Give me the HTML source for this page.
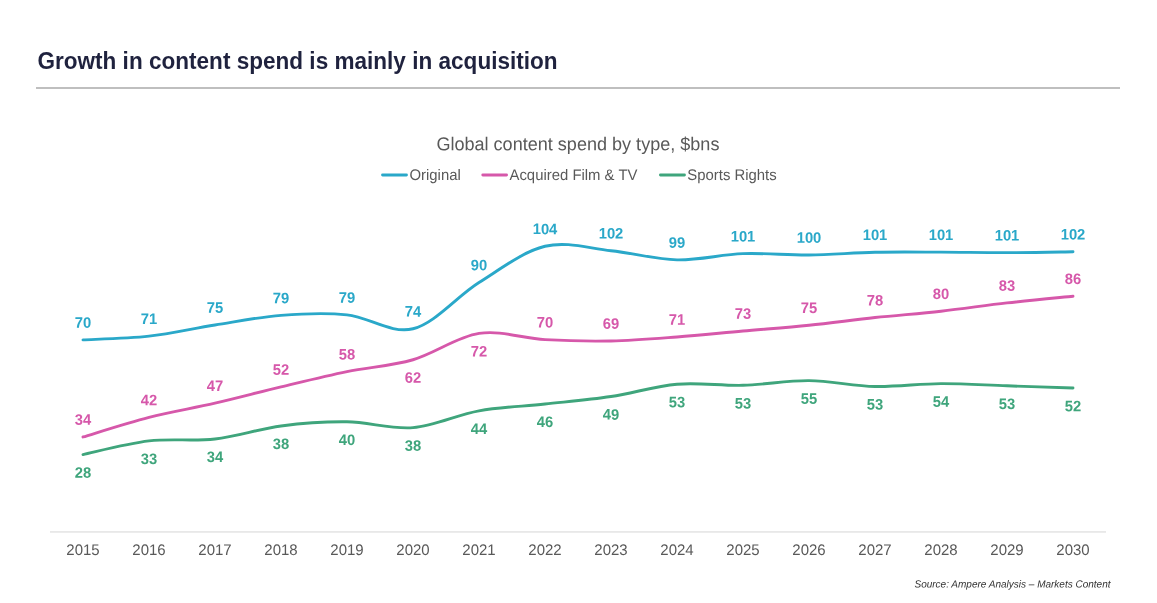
<!DOCTYPE html>
<html><head><meta charset="utf-8"><title>Growth in content spend</title>
<style>
html,body{margin:0;padding:0;background:#fff;}
body{width:1157px;height:603px;position:relative;overflow:hidden;font-family:"Liberation Sans",Arial,sans-serif;}
h1{position:absolute;left:37px;top:45.5px;margin:0;font-size:22.56px;line-height:30px;font-weight:bold;color:#1f223e;white-space:nowrap;transform:scaleY(1.06);transform-origin:0 22.85px;}
.rule{position:absolute;left:36px;top:87.4px;width:1084px;height:1.6px;background:#bfbfbf;}
svg text{font-family:"Liberation Sans",Arial,sans-serif;}
.tt{font-size:22.57px;font-weight:bold;fill:#1f223e;}
.dl{font-size:14.8px;font-weight:bold;text-anchor:middle;}
.ax{font-size:15px;fill:#595959;text-anchor:middle;}
.lg{font-size:14.9px;fill:#595959;}
.st{font-size:18.07px;fill:#595959;text-anchor:middle;}
.src{font-size:10.02px;font-style:italic;fill:#333;text-anchor:end;}
</style></head><body>
<div class="rule"></div>
<svg width="1157" height="603" viewBox="0 0 1157 603" style="position:absolute;left:0;top:0">
<rect x="50" y="531" width="1056" height="1.8" fill="#e8e8e8"/>
<path d="M83.00,454.56 C94.00,452.28 127.00,443.51 149.00,440.91 C171.00,438.31 193.00,441.47 215.00,438.98 C237.00,436.49 259.00,428.82 281.00,425.96 C303.00,423.10 325.00,421.52 347.00,421.80 C369.00,422.08 391.00,429.48 413.00,427.66 C435.00,425.84 457.00,414.82 479.00,410.88 C501.00,406.94 523.00,406.41 545.00,404.02 C567.00,401.63 589.00,399.83 611.00,396.53 C633.00,393.23 655.00,386.08 677.00,384.21 C699.00,382.34 721.00,385.90 743.00,385.31 C765.00,384.72 787.00,380.45 809.00,380.65 C831.00,380.85 853.00,386.02 875.00,386.51 C897.00,387.00 919.00,383.70 941.00,383.58 C963.00,383.46 985.00,385.07 1007.00,385.81 C1029.00,386.55 1062.00,387.67 1073.00,388.04" fill="none" stroke="#3fa57c" stroke-width="2.9" stroke-linecap="round" stroke-linejoin="round"/>
<text transform="translate(83.00,477.66) rotate(0.05) scale(1,1.025)" class="dl" fill="#3fa57c">28</text>
<text transform="translate(149.00,464.01) rotate(0.05) scale(1,1.025)" class="dl" fill="#3fa57c">33</text>
<text transform="translate(215.00,462.08) rotate(0.05) scale(1,1.025)" class="dl" fill="#3fa57c">34</text>
<text transform="translate(281.00,449.06) rotate(0.05) scale(1,1.025)" class="dl" fill="#3fa57c">38</text>
<text transform="translate(347.00,444.90) rotate(0.05) scale(1,1.025)" class="dl" fill="#3fa57c">40</text>
<text transform="translate(413.00,450.76) rotate(0.05) scale(1,1.025)" class="dl" fill="#3fa57c">38</text>
<text transform="translate(479.00,433.98) rotate(0.05) scale(1,1.025)" class="dl" fill="#3fa57c">44</text>
<text transform="translate(545.00,427.12) rotate(0.05) scale(1,1.025)" class="dl" fill="#3fa57c">46</text>
<text transform="translate(611.00,419.63) rotate(0.05) scale(1,1.025)" class="dl" fill="#3fa57c">49</text>
<text transform="translate(677.00,407.31) rotate(0.05) scale(1,1.025)" class="dl" fill="#3fa57c">53</text>
<text transform="translate(743.00,408.41) rotate(0.05) scale(1,1.025)" class="dl" fill="#3fa57c">53</text>
<text transform="translate(809.00,403.75) rotate(0.05) scale(1,1.025)" class="dl" fill="#3fa57c">55</text>
<text transform="translate(875.00,409.61) rotate(0.05) scale(1,1.025)" class="dl" fill="#3fa57c">53</text>
<text transform="translate(941.00,406.68) rotate(0.05) scale(1,1.025)" class="dl" fill="#3fa57c">54</text>
<text transform="translate(1007.00,408.91) rotate(0.05) scale(1,1.025)" class="dl" fill="#3fa57c">53</text>
<text transform="translate(1073.00,411.14) rotate(0.05) scale(1,1.025)" class="dl" fill="#3fa57c">52</text>
<path d="M83.00,436.98 C94.00,433.71 127.00,422.97 149.00,417.34 C171.00,411.71 193.00,408.26 215.00,403.19 C237.00,398.12 259.00,392.19 281.00,386.94 C303.00,381.69 325.00,376.19 347.00,371.66 C369.00,367.13 391.00,366.11 413.00,359.74 C435.00,353.37 457.00,336.80 479.00,333.44 C501.00,330.08 523.00,338.35 545.00,339.60 C567.00,340.85 589.00,341.37 611.00,340.93 C633.00,340.49 655.00,338.62 677.00,336.97 C699.00,335.32 721.00,332.96 743.00,331.01 C765.00,329.06 787.00,327.49 809.00,325.25 C831.00,323.01 853.00,319.90 875.00,317.56 C897.00,315.22 919.00,313.64 941.00,311.20 C963.00,308.76 985.00,305.41 1007.00,302.91 C1029.00,300.41 1062.00,297.34 1073.00,296.22" fill="none" stroke="#d658aa" stroke-width="2.9" stroke-linecap="round" stroke-linejoin="round"/>
<text transform="translate(83.00,424.83) rotate(0.05) scale(1,1.025)" class="dl" fill="#d658aa">34</text>
<text transform="translate(149.00,405.19) rotate(0.05) scale(1,1.025)" class="dl" fill="#d658aa">42</text>
<text transform="translate(215.00,391.04) rotate(0.05) scale(1,1.025)" class="dl" fill="#d658aa">47</text>
<text transform="translate(281.00,374.79) rotate(0.05) scale(1,1.025)" class="dl" fill="#d658aa">52</text>
<text transform="translate(347.00,359.51) rotate(0.05) scale(1,1.025)" class="dl" fill="#d658aa">58</text>
<text transform="translate(413.00,382.84) rotate(0.05) scale(1,1.025)" class="dl" fill="#d658aa">62</text>
<text transform="translate(479.00,356.54) rotate(0.05) scale(1,1.025)" class="dl" fill="#d658aa">72</text>
<text transform="translate(545.00,327.45) rotate(0.05) scale(1,1.025)" class="dl" fill="#d658aa">70</text>
<text transform="translate(611.00,328.78) rotate(0.05) scale(1,1.025)" class="dl" fill="#d658aa">69</text>
<text transform="translate(677.00,324.82) rotate(0.05) scale(1,1.025)" class="dl" fill="#d658aa">71</text>
<text transform="translate(743.00,318.86) rotate(0.05) scale(1,1.025)" class="dl" fill="#d658aa">73</text>
<text transform="translate(809.00,313.10) rotate(0.05) scale(1,1.025)" class="dl" fill="#d658aa">75</text>
<text transform="translate(875.00,305.41) rotate(0.05) scale(1,1.025)" class="dl" fill="#d658aa">78</text>
<text transform="translate(941.00,299.05) rotate(0.05) scale(1,1.025)" class="dl" fill="#d658aa">80</text>
<text transform="translate(1007.00,290.76) rotate(0.05) scale(1,1.025)" class="dl" fill="#d658aa">83</text>
<text transform="translate(1073.00,284.07) rotate(0.05) scale(1,1.025)" class="dl" fill="#d658aa">86</text>
<path d="M83.00,339.90 C94.00,339.28 127.00,338.66 149.00,336.17 C171.00,333.68 193.00,328.42 215.00,324.95 C237.00,321.48 259.00,317.02 281.00,315.33 C303.00,313.64 325.00,312.59 347.00,314.83 C369.00,317.07 391.00,334.17 413.00,328.78 C435.00,323.39 457.00,296.25 479.00,282.50 C501.00,268.75 523.00,251.57 545.00,246.28 C567.00,240.99 589.00,248.48 611.00,250.74 C633.00,253.00 655.00,259.34 677.00,259.83 C699.00,260.32 721.00,254.48 743.00,253.67 C765.00,252.87 787.00,255.23 809.00,255.00 C831.00,254.77 853.00,252.74 875.00,252.27 C897.00,251.80 919.00,252.10 941.00,252.17 C963.00,252.24 985.00,252.74 1007.00,252.67 C1029.00,252.60 1062.00,251.90 1073.00,251.74" fill="none" stroke="#2aa8c9" stroke-width="2.9" stroke-linecap="round" stroke-linejoin="round"/>
<text transform="translate(83.00,327.75) rotate(0.05) scale(1,1.025)" class="dl" fill="#2aa8c9">70</text>
<text transform="translate(149.00,324.02) rotate(0.05) scale(1,1.025)" class="dl" fill="#2aa8c9">71</text>
<text transform="translate(215.00,312.80) rotate(0.05) scale(1,1.025)" class="dl" fill="#2aa8c9">75</text>
<text transform="translate(281.00,303.18) rotate(0.05) scale(1,1.025)" class="dl" fill="#2aa8c9">79</text>
<text transform="translate(347.00,302.68) rotate(0.05) scale(1,1.025)" class="dl" fill="#2aa8c9">79</text>
<text transform="translate(413.00,316.63) rotate(0.05) scale(1,1.025)" class="dl" fill="#2aa8c9">74</text>
<text transform="translate(479.00,270.35) rotate(0.05) scale(1,1.025)" class="dl" fill="#2aa8c9">90</text>
<text transform="translate(545.00,234.13) rotate(0.05) scale(1,1.025)" class="dl" fill="#2aa8c9">104</text>
<text transform="translate(611.00,238.59) rotate(0.05) scale(1,1.025)" class="dl" fill="#2aa8c9">102</text>
<text transform="translate(677.00,247.68) rotate(0.05) scale(1,1.025)" class="dl" fill="#2aa8c9">99</text>
<text transform="translate(743.00,241.52) rotate(0.05) scale(1,1.025)" class="dl" fill="#2aa8c9">101</text>
<text transform="translate(809.00,242.85) rotate(0.05) scale(1,1.025)" class="dl" fill="#2aa8c9">100</text>
<text transform="translate(875.00,240.12) rotate(0.05) scale(1,1.025)" class="dl" fill="#2aa8c9">101</text>
<text transform="translate(941.00,240.02) rotate(0.05) scale(1,1.025)" class="dl" fill="#2aa8c9">101</text>
<text transform="translate(1007.00,240.52) rotate(0.05) scale(1,1.025)" class="dl" fill="#2aa8c9">101</text>
<text transform="translate(1073.00,239.59) rotate(0.05) scale(1,1.025)" class="dl" fill="#2aa8c9">102</text>
<text transform="translate(83.00,555.00) rotate(0.05) scale(1,1.025)" class="ax">2015</text>
<text transform="translate(149.00,555.00) rotate(0.05) scale(1,1.025)" class="ax">2016</text>
<text transform="translate(215.00,555.00) rotate(0.05) scale(1,1.025)" class="ax">2017</text>
<text transform="translate(281.00,555.00) rotate(0.05) scale(1,1.025)" class="ax">2018</text>
<text transform="translate(347.00,555.00) rotate(0.05) scale(1,1.025)" class="ax">2019</text>
<text transform="translate(413.00,555.00) rotate(0.05) scale(1,1.025)" class="ax">2020</text>
<text transform="translate(479.00,555.00) rotate(0.05) scale(1,1.025)" class="ax">2021</text>
<text transform="translate(545.00,555.00) rotate(0.05) scale(1,1.025)" class="ax">2022</text>
<text transform="translate(611.00,555.00) rotate(0.05) scale(1,1.025)" class="ax">2023</text>
<text transform="translate(677.00,555.00) rotate(0.05) scale(1,1.025)" class="ax">2024</text>
<text transform="translate(743.00,555.00) rotate(0.05) scale(1,1.025)" class="ax">2025</text>
<text transform="translate(809.00,555.00) rotate(0.05) scale(1,1.025)" class="ax">2026</text>
<text transform="translate(875.00,555.00) rotate(0.05) scale(1,1.025)" class="ax">2027</text>
<text transform="translate(941.00,555.00) rotate(0.05) scale(1,1.025)" class="ax">2028</text>
<text transform="translate(1007.00,555.00) rotate(0.05) scale(1,1.025)" class="ax">2029</text>
<text transform="translate(1073.00,555.00) rotate(0.05) scale(1,1.025)" class="ax">2030</text>
<line x1="382.50" y1="175" x2="406.50" y2="175" stroke="#2aa8c9" stroke-width="2.8" stroke-linecap="round"/>
<text transform="translate(409.50,180.00) rotate(0.05) scale(1,1.030)" class="lg">Original</text>
<line x1="482.75" y1="175" x2="506.60" y2="175" stroke="#d658aa" stroke-width="2.8" stroke-linecap="round"/>
<text transform="translate(509.50,180.00) rotate(0.05) scale(1,1.030)" class="lg">Acquired Film &amp; TV</text>
<line x1="660.40" y1="175" x2="684.50" y2="175" stroke="#3fa57c" stroke-width="2.8" stroke-linecap="round"/>
<text transform="translate(687.30,180.00) rotate(0.05) scale(1,1.030)" class="lg">Sports Rights</text>
<text transform="translate(577.90,150.20) rotate(0.03) scale(1,1.025)" class="st">Global content spend by type, $bns</text>
<text transform="translate(1110.50,587.50) rotate(0.03) scale(1,1.025)" class="src">Source: Ampere Analysis – Markets Content</text>
<text transform="translate(37.40,68.80) rotate(0.02) scale(1,1.025)" class="tt">Growth in content spend is mainly in acquisition</text>
</svg>
</body></html>
